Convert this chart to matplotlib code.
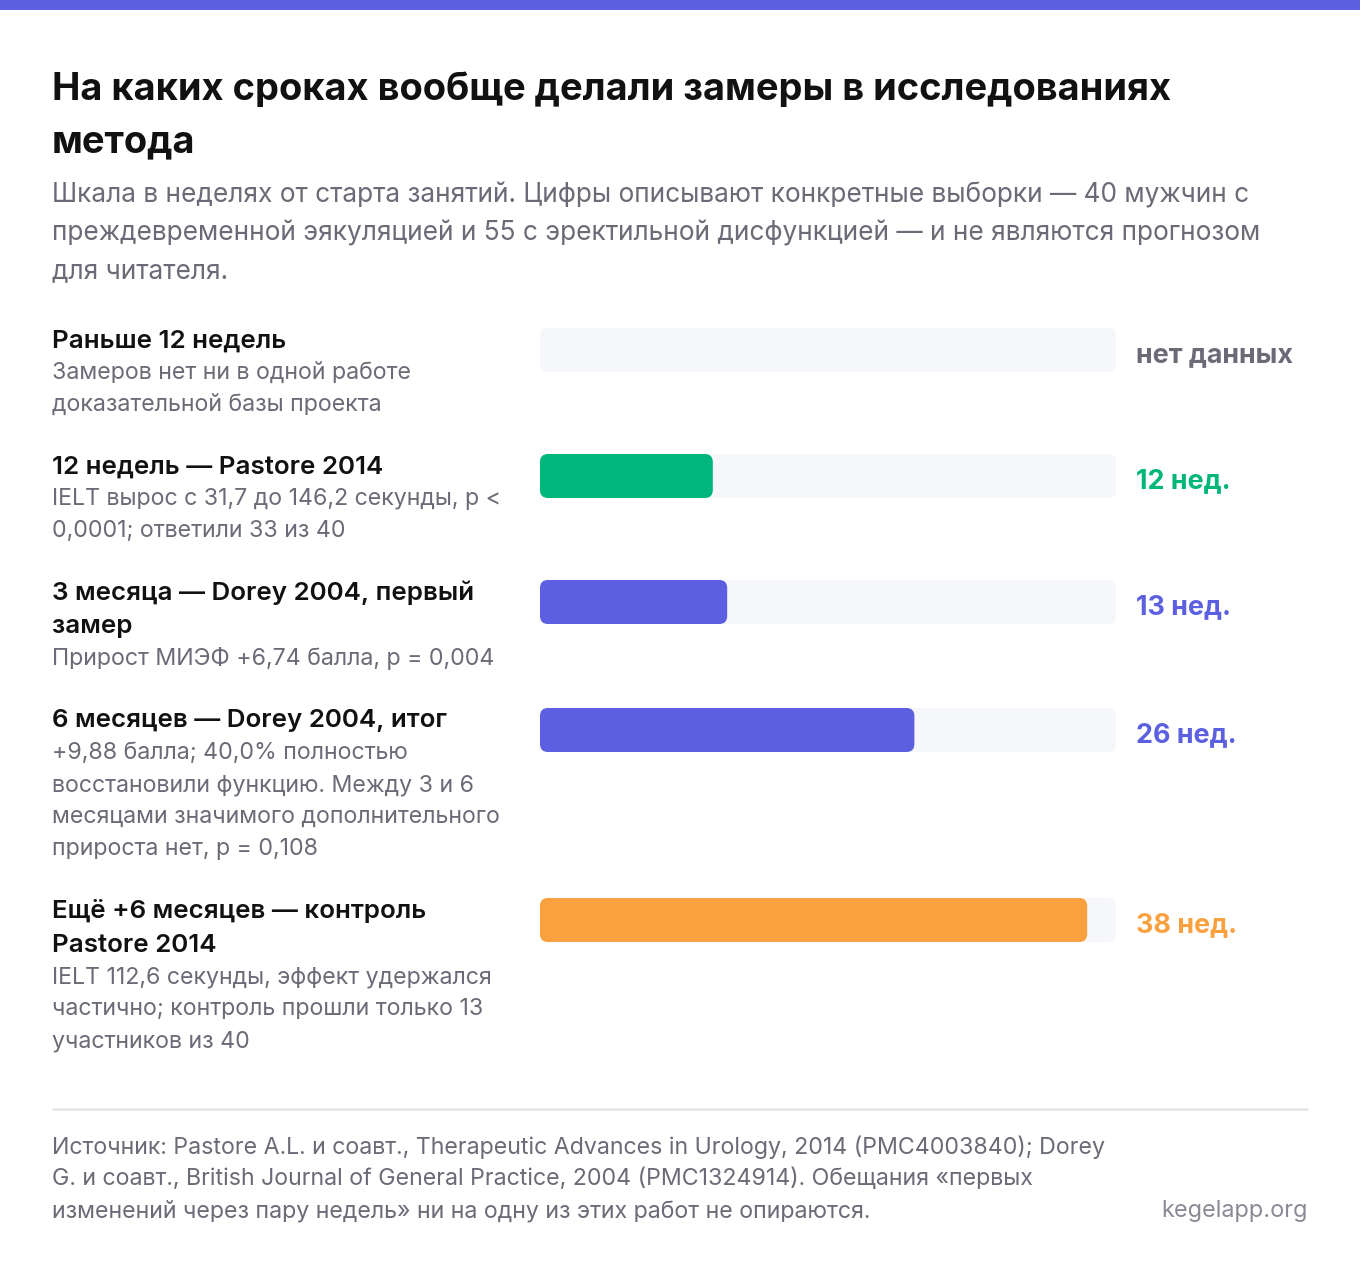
import matplotlib
matplotlib.use("Agg")
import matplotlib.pyplot as plt
from matplotlib.patches import FancyBboxPatch, Rectangle

plt.rcParams['font.family'] = ['Inter', 'DejaVu Sans']

# ---- data ----
title_lines = ["На каких сроках вообще делали замеры в исследованиях", "метода"]
subtitle_lines = [
    "Шкала в неделях от старта занятий. Цифры описывают конкретные выборки — 40 мужчин с",
    "преждевременной эякуляцией и 55 с эректильной дисфункцией — и не являются прогнозом",
    "для читателя.",
]
row_headings = [
    ["Раньше 12 недель"],
    ["12 недель — Pastore 2014"],
    ["3 месяца — Dorey 2004, первый", "замер"],
    ["6 месяцев — Dorey 2004, итог"],
    ["Ещё +6 месяцев — контроль", "Pastore 2014"],
]
row_notes = [
    ["Замеров нет ни в одной работе", "доказательной базы проекта"],
    ["IELT вырос с 31,7 до 146,2 секунды, p <", "0,0001; ответили 33 из 40"],
    ["Прирост МИЭФ +6,74 балла, p = 0,004"],
    ["+9,88 балла; 40,0% полностью", "восстановили функцию. Между 3 и 6",
     "месяцами значимого дополнительного", "прироста нет, p = 0,108"],
    ["IELT 112,6 секунды, эффект удержался", "частично; контроль прошли только 13",
     "участников из 40"],
]
weeks = [None, 12, 13, 26, 38]
value_labels = ["нет данных", "12 нед.", "13 нед.", "26 нед.", "38 нед."]
bar_colors = ["#6B6B78", "#00B67A", "#5B5FE0", "#5B5FE0", "#F9A03F"]
scale_max = 40
footer_lines = [
    "Источник: Pastore A.L. и соавт., Therapeutic Advances in Urology, 2014 (PMC4003840); Dorey",
    "G. и соавт., British Journal of General Practice, 2004 (PMC1324914). Обещания «первых",
    "изменений через пару недель» ни на одну из этих работ не опираются.",
]
brand = "kegelapp.org"

# ---- figure ----
W, H = 1360, 1278
fig = plt.figure(figsize=(W / 100, H / 100), dpi=100)
fig.patch.set_facecolor("white")
ax = fig.add_axes([0, 0, 1, 1])
ax.set_xlim(0, W)
ax.set_ylim(H, 0)
ax.axis("off")

# bars axes: x from 540 to 1116 px, y in page pixels
bx0, bx1 = 540, 1116
bax = fig.add_axes([bx0 / W, 0, (bx1 - bx0) / W, 1])
bax.set_xlim(0, scale_max)
bax.set_ylim(H, 0)
bax.axis("off")
bax.patch.set_alpha(0)

px_per_unit = (bx1 - bx0) / scale_max

# top stripe
ax.add_patch(Rectangle((0, 0), W, 10, color="#5B5FE0", lw=0))

DARK = "#111111"
GRAY = "#6B6B78"
for i, t in enumerate(title_lines):
    ax.text(52, 90 + i * 52, t, fontsize=27.4, fontweight="bold", color=DARK,
            va="center", ha="left")
for i, t in enumerate(subtitle_lines):
    ax.text(52, 195 + i * 38, t, fontsize=18.9, color=GRAY, va="center", ha="left")


def rounded_bar(value, center, color):
    bars = bax.barh([center], [value], height=bar_h, left=0)
    for b in bars:
        b.set_visible(False)
        bax.add_patch(FancyBboxPatch((b.get_x(), b.get_y()), b.get_width(), b.get_height(),
                                     boxstyle=f"round,pad=0,rounding_size={radius_px / px_per_unit}",
                                     mutation_aspect=px_per_unit, fc=color, ec="none"))


# rows
y = 339
bar_h = 44
radius_px = 8
for k in range(len(row_headings)):
    yy = y + 2
    for line in row_headings[k]:
        ax.text(52, yy, line, fontsize=18.7, fontweight="semibold", color=DARK,
                va="center", ha="left")
        yy += 34
    yy -= 2
    for line in row_notes[k]:
        ax.text(52, yy, line, fontsize=16.7, color=GRAY, va="center", ha="left")
        yy += 32
    last = yy - 32 - 2

    top = y - 11
    center = top + bar_h / 2
    rounded_bar(scale_max, center, "#F6F7FB")
    if weeks[k] is not None:
        rounded_bar(weeks[k], center, bar_colors[k])
    ax.text(1136, center + 5, value_labels[k], fontsize=19.4, fontweight="bold",
            color=bar_colors[k], va="center", ha="left")

    y = max(last, top + bar_h) + 62

# divider
ax.plot([52, 1308], [1109, 1109], color="#E6E6EB", lw=2, solid_capstyle="butt")

for i, t in enumerate(footer_lines):
    ax.text(52, 1147 + i * 32, t, fontsize=16.7, color=GRAY, va="center", ha="left")
ax.text(1308, 1211, brand, fontsize=16.9, color="#8A8A96", va="center", ha="right")

fig.savefig("out.png", dpi=100, facecolor="white")
